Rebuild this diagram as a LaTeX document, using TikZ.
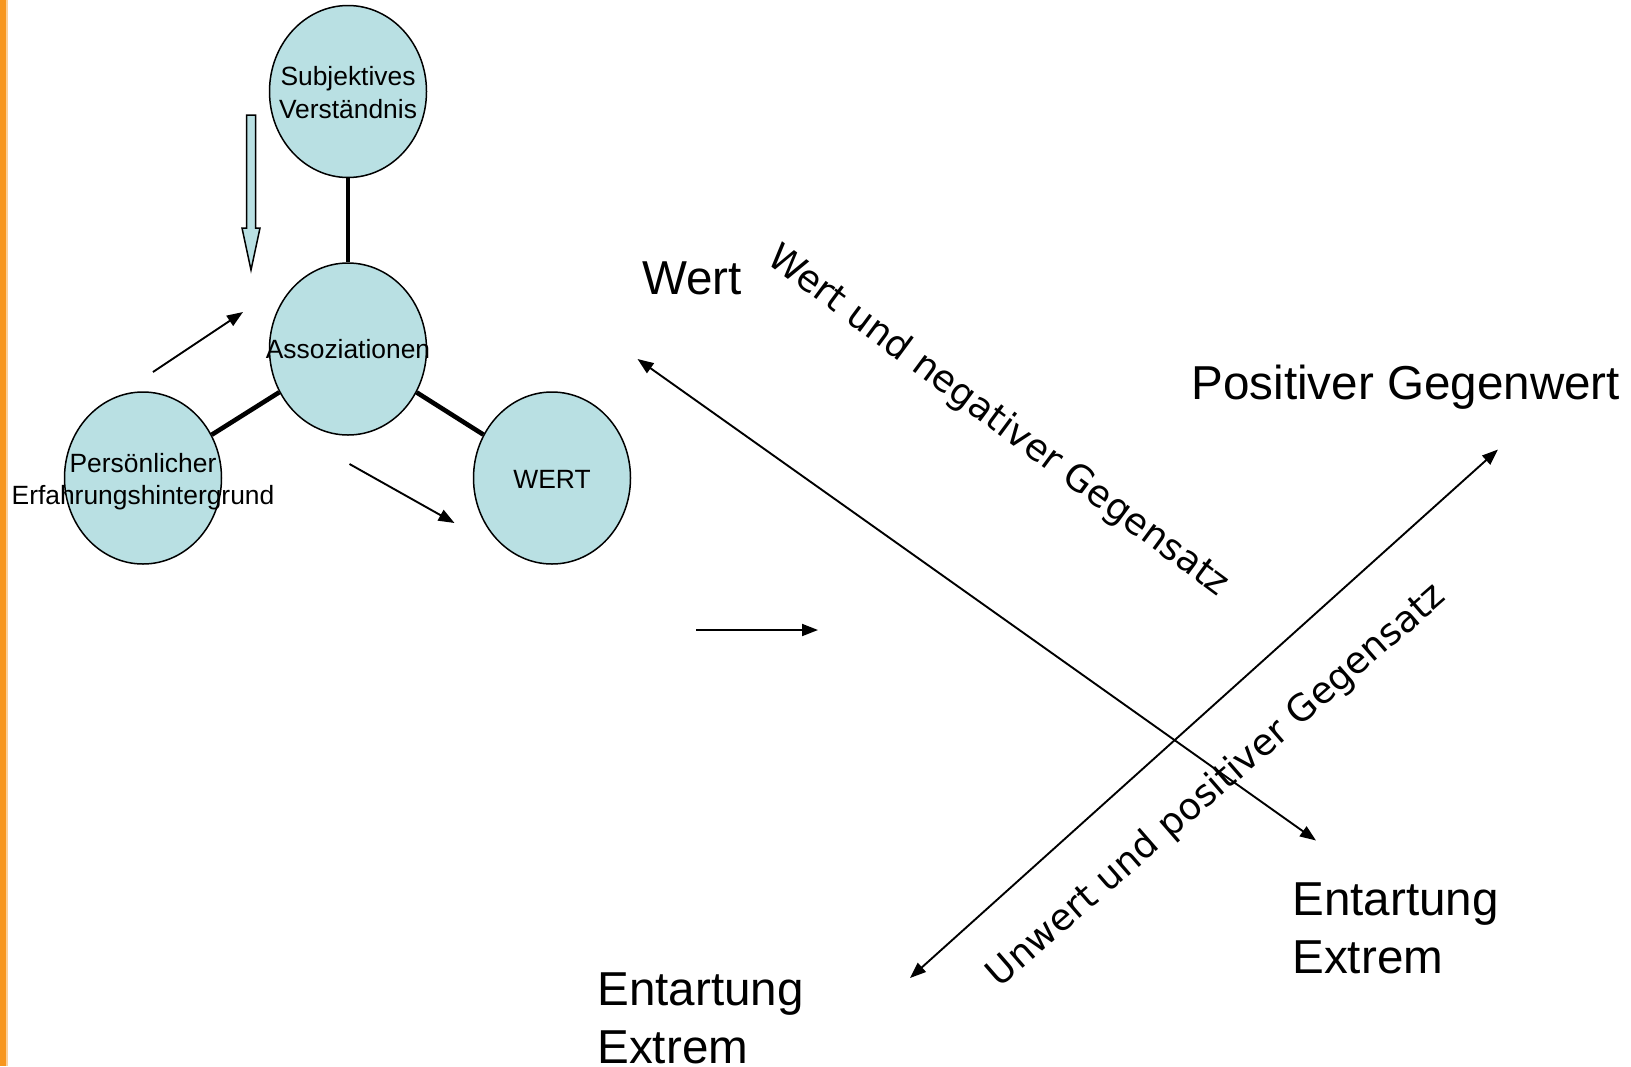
\documentclass[tikz,border=0pt]{standalone}
\usepackage{fontspec}
\setmainfont{Liberation Sans}
\newfontfamily\schraegfont{DejaVu Sans}
\usetikzlibrary{arrows.meta,shapes.geometric}
\definecolor{kreis}{RGB}{185,224,227}
\definecolor{balken}{RGB}{247,150,30}

\begin{document}
\begin{tikzpicture}[x=0.5pt,y=-0.5pt,
                    mnode/.style = {shape = ellipse,
                                    draw = black,
                                    fill = kreis,
                                    line width = 0.75pt,
                                    inner sep = 0pt,
                                    minimum width = 78.5pt,
                                    minimum height = 86pt},
                    mtext/.style = {align = center,
                                    font = \fontsize{13.2}{16.2}\selectfont},
                    bond/.style = {line width = 2.3pt},
                    pfeil/.style = {line width = 0.95pt,
                                    -{Triangle[length=8pt,width=6pt]}},
                    doppel/.style = {line width = 0.95pt,
                                    {Triangle[length=8pt,width=6pt]}-{Triangle[length=8pt,width=6pt]}},
                    gross/.style = {inner sep = 0pt, align = left,
                                    font = \fontsize{23.8}{29}\selectfont},
                    schraeg/.style = {inner sep = 0pt,
                                    font = \schraegfont\fontsize{18.4}{22}\selectfont}]
		\useasboundingbox (0,0) rectangle (1631,1066);
		\fill[balken!45] (0,0) rectangle (8,1066);
		\fill[balken] (0,0) rectangle (6,1066);
		% Dreieck der Begriffe
		\node[mnode, label={[mtext, yshift=-0.6pt]center:Subjektives\\Verständnis}] (1) at (348,91.5) {};
		\node[mnode, label={[mtext]center:Assoziationen}] (2) at (348,349) {};
		\node[mnode, label={[mtext, yshift=-1.8pt]center:Persönlicher\\Erfahrungshintergrund}] (3) at (143,478) {};
		\node[mnode, label={[mtext, yshift=-0.5pt]center:WERT}] (4) at (552,478) {};
		\path[bond] (1) edge (2)
		            (2) edge (3)
		            (2) edge (4);
		% hohler Pfeil
		\coordinate (h) at (251,115);
		\draw[fill = kreis, line width = 0.75pt] (h) ++(-4.5,0) -- ++(9,0) -- ++(0,113)
		      -- ++(4.5,0) -- ++(-9,42) -- ++(-9,-42) -- ++(4.5,0) -- cycle;
		% kleine Pfeile
		\coordinate (a1) at (153,372);
		\coordinate (a2) at (243,312);
		\coordinate (b1) at (349.5,464);
		\coordinate (b2) at (454.5,523);
		\coordinate (c1) at (696,630);
		\coordinate (c2) at (818,630);
		\draw[pfeil] (a1) -- (a2);
		\draw[pfeil] (b1) -- (b2);
		\draw[pfeil] (c1) -- (c2);
		% Achsen
		\coordinate (w1) at (637.5,359);
		\coordinate (w2) at (1316,840.5);
		\coordinate (u1) at (910,978);
		\coordinate (u2) at (1498,449.5);
		\draw[doppel] (w1) -- (w2);
		\draw[doppel] (u1) -- (u2);
		\node[gross, anchor = base west] (wert) at (642,294) {Wert};
		\node[gross, anchor = base west] (pos) at (1191,399) {Positiver Gegenwert};
		\node[gross, anchor = base west] (ent1) at (1292,973) {Entartung\\Extrem};
		\node[gross, anchor = base west] (ent2) at (597,1063) {Entartung\\Extrem};
		\node[schraeg, rotate = -36.5] (neg) at (998,421.5) {Wert und negativer Gegensatz};
		\node[schraeg, rotate = 41] (posg) at (1217,786) {Unwert und positiver Gegensatz};
	\end{tikzpicture}
\end{document}
